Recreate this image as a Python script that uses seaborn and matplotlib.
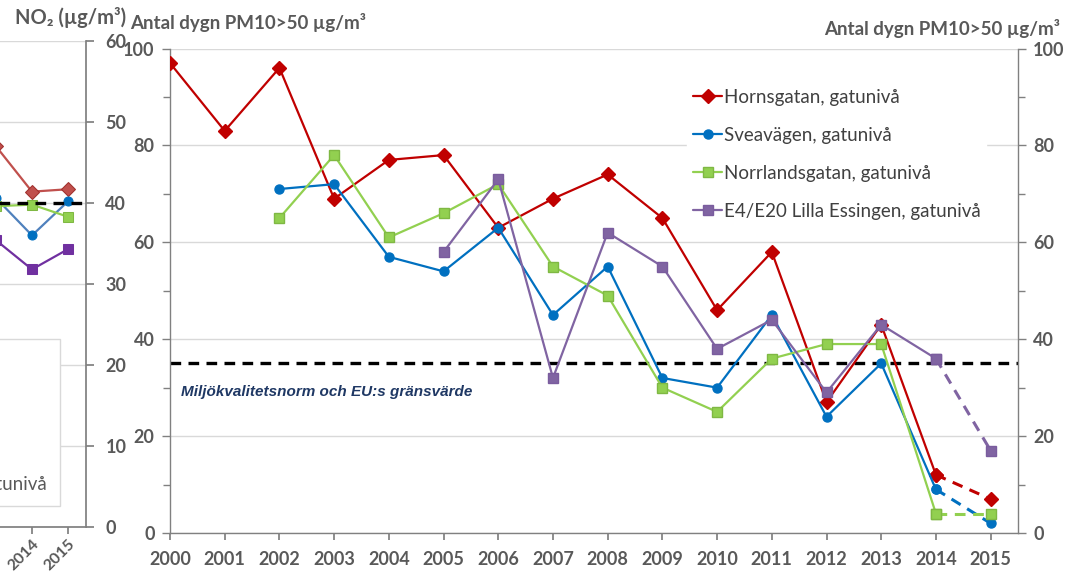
import numpy as np
import pandas as pd
import matplotlib
matplotlib.use("Agg")
import matplotlib.pyplot as plt
from matplotlib.ticker import MultipleLocator
import seaborn as sns

# PM10 - antal dygn over 50 ug/m3
years = list(range(2000, 2016))
nan = np.nan
hornsgatan = [97, 83, 96, 69, 77, 78, 63, 69, 74, 65, 46, 58, 27, 43, 12, 7]
sveavagen = [nan, nan, 71, 72, 57, 54, 63, 45, 55, 32, 30, 45, 24, 35, 9, 2]
norrlandsgatan = [nan, nan, 65, 78, 61, 66, 72, 55, 49, 30, 25, 36, 39, 39, 4, 4]
essingen = [nan, nan, nan, nan, nan, 58, 73, 32, 62, 55, 38, 44, 29, 43, 36, 17]
pm_limit = 35
labels = ["Hornsgatan, gatunivå", "Sveavägen, gatunivå",
          "Norrlandsgatan, gatunivå", "E4/E20 Lilla Essingen, gatunivå"]

# the cut-off NO2 chart on the left edge
no2_years = [2013, 2014, 2015]
no2_hornsgatan = [47, 41.4, 41.7]
no2_sveavagen = [40.6, 36.0, 40.2]
no2_norrlandsgatan = [39.6, 39.8, 38.3]
no2_essingen = [35.4, 31.8, 34.3]
no2_limit = 40

sns.set_theme(style="white")
plt.rcParams['font.family'] = ['Lato', 'DejaVu Sans']

grey = "#595959"
colors = ["#C00000", "#0070C0", "#92D050", "#8064A2"]
markers = ["D", "o", "s", "s"]
msizes = [7.5, 6.5, 6.5, 6.5]
edges = ["#C00000", "#0070C0", "#7FB843", "#7A5C9E"]

fig = plt.figure(figsize=(10.84, 5.73), dpi=100)
W, H = 1084, 573

# --------------------------
# main PM10 chart
ax = fig.add_axes([170 / W, (H - 533) / H, (1018 - 170) / W, (533 - 48.5) / H])
series = [hornsgatan, sveavagen, norrlandsgatan, essingen]
for vals, lab, c, m, ms, ec in zip(series, labels, colors, markers, msizes, edges):
    df = pd.DataFrame({"year": years, "value": vals})
    solid = df[df.year <= 2014].dropna()
    dashed = df[df.year >= 2014].dropna()
    sns.lineplot(data=solid, x="year", y="value", ax=ax, color=c, lw=1.6,
                 marker=m, markersize=ms, markeredgecolor=ec, markeredgewidth=1,
                 label=lab, estimator=None, zorder=3)
    sns.lineplot(data=dashed, x="year", y="value", ax=ax, color=c, lw=2.2,
                 linestyle=(0, (3.5, 2.5)), marker=m, markersize=ms,
                 markeredgecolor=ec, markeredgewidth=1, legend=False,
                 estimator=None, zorder=3)

ax.axhline(pm_limit, color="black", lw=2.4, ls=(0, (3.2, 2.2)), zorder=2)
ax.text(2000.2, 29.1, "Miljökvalitetsnorm och EU:s gränsvärde", color="#1F3864",
        fontsize=11, fontweight="bold", fontstyle="italic",
        family="Liberation Sans", va="center")

ax.set_xlim(2000, 2015.5)
ax.set_ylim(0, 100)
ax.set_xticks(years)
ax.yaxis.set_major_locator(MultipleLocator(20))
ax.yaxis.set_minor_locator(MultipleLocator(10))
ax.grid(axis="y", which="major", color="#D9D9D9", lw=1)
ax.set_axisbelow(True)
ax.set_xlabel("")
ax.set_ylabel("")
for s in ["left", "right", "bottom"]:
    ax.spines[s].set_color("#808080")
    ax.spines[s].set_linewidth(1)
ax.spines["top"].set_visible(False)
ax.tick_params(axis="y", which="both", left=True, right=True, labelleft=True,
               labelright=True, direction="out", color="#808080", width=1)
ax.tick_params(axis="y", which="major", length=6, pad=5, labelsize=13, labelcolor=grey)
ax.tick_params(axis="y", which="minor", length=5)
ax.tick_params(axis="x", bottom=True, direction="out", length=5, color="#808080",
               pad=8, labelsize=13, labelcolor=grey)
for t in ax.get_xticklabels() + ax.get_yticklabels():
    t.set_fontweight("bold")
for t in ax.yaxis.get_majorticklabels():
    t.set_fontweight("bold")

leg = ax.legend(loc="upper left", bbox_to_anchor=(678 / W, 1 - 74 / H),
                bbox_transform=fig.transFigure, frameon=True, facecolor="white",
                edgecolor="white", framealpha=1, fontsize=13.5, handlelength=1.55,
                handletextpad=0.1, labelspacing=1.12, borderpad=0.3)
for t in leg.get_texts():
    t.set_color("#404040")

fig.text(130 / W, 1 - 22 / H, "Antal dygn PM10>50 µg/m³", fontsize=13.5,
         fontweight="bold", color=grey, va="center", ha="left")
fig.text(1060 / W, 1 - 28 / H, "Antal dygn PM10>50 µg/m³", fontsize=13.5,
         fontweight="bold", color=grey, va="center", ha="right")

# --------------------------
# partial NO2 chart, mostly outside the figure
ax2 = fig.add_axes([-400 / W, (H - 527) / H, 486 / W, (527 - 41) / H])
no2_series = [no2_hornsgatan, no2_sveavagen, no2_norrlandsgatan, no2_essingen]
no2_colors = ["#C0504D", "#4F81BD", "#92D050", "#7030A0"]
no2_edges = ["#A0302D", "#0070C0", "#7FB843", "#7030A0"]
no2_face = ["#C0504D", "#0070C0", "#92D050", "#7030A0"]
for vals, lab, c, m, ms, ec, fc in zip(no2_series, labels, no2_colors, markers,
                                       msizes, no2_edges, no2_face):
    sns.lineplot(x=no2_years, y=vals, ax=ax2, color=c, lw=1.6, marker=m,
                 markersize=ms, markeredgecolor=ec, markerfacecolor=fc,
                 label=lab, estimator=None, zorder=3)
ax2.axhline(no2_limit, color="black", lw=2.4, ls=(0, (3.2, 2.2)), zorder=4,
            clip_on=False, xmax=1.005)
ax2.set_xlim(2015.5 - 486 / 36, 2015.5)
ax2.set_ylim(0, 60)
ax2.set_xticks([2014, 2015])
ax2.yaxis.set_major_locator(MultipleLocator(10))
ax2.grid(axis="y", color="#D9D9D9", lw=1)
ax2.set_axisbelow(True)
ax2.set_xlabel("")
ax2.set_ylabel("")
ax2.spines["top"].set_visible(False)
ax2.spines["left"].set_visible(False)
ax2.spines["right"].set_color("#808080")
ax2.spines["bottom"].set_color("#808080")
ax2.yaxis.tick_right()
ax2.tick_params(axis="y", right=True, direction="out", length=6, color="#808080",
                labelsize=13, labelcolor=grey, pad=8)
ax2.tick_params(axis="x", bottom=True, direction="out", length=5, color="#808080",
                labelsize=11.5, labelcolor=grey, labelrotation=45, pad=2)
for t in ax2.get_xticklabels() + ax2.get_yticklabels():
    t.set_fontweight("bold")
for t in ax2.get_xticklabels():
    t.set_ha("right")
    t.set_rotation_mode("anchor")
leg2 = ax2.legend(loc="lower right", bbox_to_anchor=(60 / W, 1 - 506 / H),
                  bbox_transform=fig.transFigure, frameon=True, facecolor="white",
                  edgecolor="#D9D9D9", framealpha=1, fancybox=False, fontsize=13.5,
                  handlelength=1.7, handletextpad=0.3, labelspacing=1.3,
                  borderpad=0.7, borderaxespad=0)
for t in leg2.get_texts():
    t.set_color(grey)

fig.text(15 / W, 1 - 18 / H, "NO₂ (µg/m³)", fontsize=14.5, fontweight="bold",
         color=grey, va="center", ha="left")

fig.savefig("out.png", dpi=100)
